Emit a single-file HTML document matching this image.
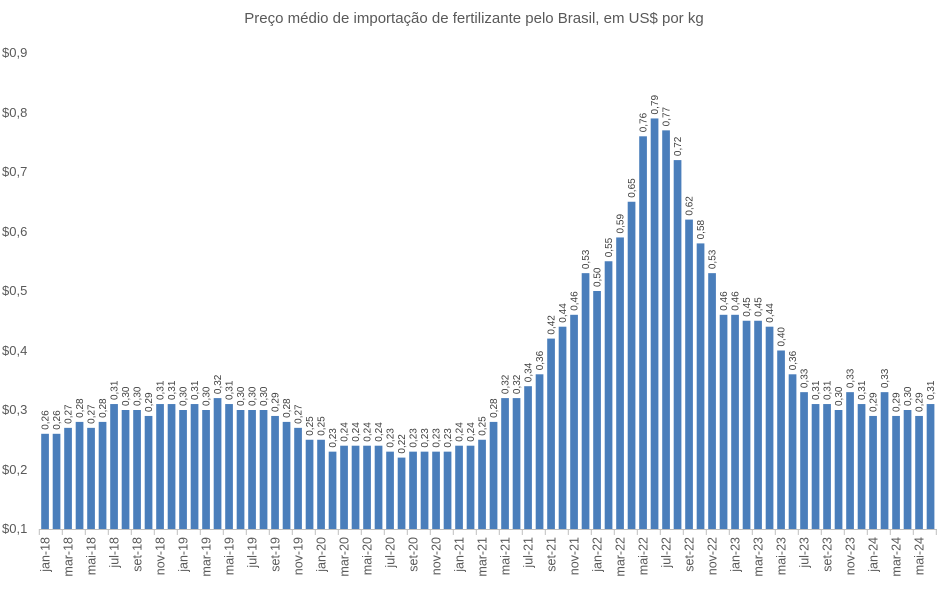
<!DOCTYPE html>
<html><head><meta charset="utf-8"><style>
body{margin:0;background:#fff}
svg{display:block;font-family:"Liberation Sans",sans-serif}
</style></head><body>
<svg width="949" height="591" viewBox="0 0 949 591" xmlns="http://www.w3.org/2000/svg">
<text x="474" y="23" text-anchor="middle" font-size="15" fill="#595959">Preço médio de importação de fertilizante pelo Brasil, em US$ por kg</text>
<g font-size="13" fill="#595959">
<text x="2" y="57">$0,9</text><text x="2" y="117">$0,8</text><text x="2" y="176">$0,7</text><text x="2" y="236">$0,6</text><text x="2" y="295">$0,5</text><text x="2" y="355">$0,4</text><text x="2" y="414">$0,3</text><text x="2" y="474">$0,2</text><text x="2" y="533">$0,1</text>
</g>
<g fill="#4a7ebb">
<rect x="41.2" y="433.8" width="7.7" height="95.2"/><rect x="52.7" y="433.8" width="7.7" height="95.2"/><rect x="64.2" y="427.85" width="7.7" height="101.15"/><rect x="75.7" y="421.9" width="7.7" height="107.1"/><rect x="87.2" y="427.85" width="7.7" height="101.15"/><rect x="98.7" y="421.9" width="7.7" height="107.1"/><rect x="110.2" y="404.05" width="7.7" height="124.95"/><rect x="121.7" y="410" width="7.7" height="119"/><rect x="133.2" y="410" width="7.7" height="119"/><rect x="144.7" y="415.95" width="7.7" height="113.05"/><rect x="156.2" y="404.05" width="7.7" height="124.95"/><rect x="167.7" y="404.05" width="7.7" height="124.95"/>
<rect x="179.2" y="410" width="7.7" height="119"/><rect x="190.7" y="404.05" width="7.7" height="124.95"/><rect x="202.2" y="410" width="7.7" height="119"/><rect x="213.7" y="398.1" width="7.7" height="130.9"/><rect x="225.2" y="404.05" width="7.7" height="124.95"/><rect x="236.7" y="410" width="7.7" height="119"/><rect x="248.2" y="410" width="7.7" height="119"/><rect x="259.7" y="410" width="7.7" height="119"/><rect x="271.2" y="415.95" width="7.7" height="113.05"/><rect x="282.7" y="421.9" width="7.7" height="107.1"/><rect x="294.2" y="427.85" width="7.7" height="101.15"/><rect x="305.7" y="439.75" width="7.7" height="89.25"/>
<rect x="317.2" y="439.75" width="7.7" height="89.25"/><rect x="328.7" y="451.65" width="7.7" height="77.35"/><rect x="340.2" y="445.7" width="7.7" height="83.3"/><rect x="351.7" y="445.7" width="7.7" height="83.3"/><rect x="363.2" y="445.7" width="7.7" height="83.3"/><rect x="374.7" y="445.7" width="7.7" height="83.3"/><rect x="386.2" y="451.65" width="7.7" height="77.35"/><rect x="397.7" y="457.6" width="7.7" height="71.4"/><rect x="409.2" y="451.65" width="7.7" height="77.35"/><rect x="420.7" y="451.65" width="7.7" height="77.35"/><rect x="432.2" y="451.65" width="7.7" height="77.35"/><rect x="443.7" y="451.65" width="7.7" height="77.35"/>
<rect x="455.2" y="445.7" width="7.7" height="83.3"/><rect x="466.7" y="445.7" width="7.7" height="83.3"/><rect x="478.2" y="439.75" width="7.7" height="89.25"/><rect x="489.7" y="421.9" width="7.7" height="107.1"/><rect x="501.2" y="398.1" width="7.7" height="130.9"/><rect x="512.7" y="398.1" width="7.7" height="130.9"/><rect x="524.2" y="386.2" width="7.7" height="142.8"/><rect x="535.7" y="374.3" width="7.7" height="154.7"/><rect x="547.2" y="338.6" width="7.7" height="190.4"/><rect x="558.7" y="326.7" width="7.7" height="202.3"/><rect x="570.2" y="314.8" width="7.7" height="214.2"/><rect x="581.7" y="273.15" width="7.7" height="255.85"/>
<rect x="593.2" y="291" width="7.7" height="238"/><rect x="604.7" y="261.25" width="7.7" height="267.75"/><rect x="616.2" y="237.45" width="7.7" height="291.55"/><rect x="627.7" y="201.75" width="7.7" height="327.25"/><rect x="639.2" y="136.3" width="7.7" height="392.7"/><rect x="650.7" y="118.45" width="7.7" height="410.55"/><rect x="662.2" y="130.35" width="7.7" height="398.65"/><rect x="673.7" y="160.1" width="7.7" height="368.9"/><rect x="685.2" y="219.6" width="7.7" height="309.4"/><rect x="696.7" y="243.4" width="7.7" height="285.6"/><rect x="708.2" y="273.15" width="7.7" height="255.85"/><rect x="719.7" y="314.8" width="7.7" height="214.2"/>
<rect x="731.2" y="314.8" width="7.7" height="214.2"/><rect x="742.7" y="320.75" width="7.7" height="208.25"/><rect x="754.2" y="320.75" width="7.7" height="208.25"/><rect x="765.7" y="326.7" width="7.7" height="202.3"/><rect x="777.2" y="350.5" width="7.7" height="178.5"/><rect x="788.7" y="374.3" width="7.7" height="154.7"/><rect x="800.2" y="392.15" width="7.7" height="136.85"/><rect x="811.7" y="404.05" width="7.7" height="124.95"/><rect x="823.2" y="404.05" width="7.7" height="124.95"/><rect x="834.7" y="410" width="7.7" height="119"/><rect x="846.2" y="392.15" width="7.7" height="136.85"/><rect x="857.7" y="404.05" width="7.7" height="124.95"/>
<rect x="869.2" y="415.95" width="7.7" height="113.05"/><rect x="880.7" y="392.15" width="7.7" height="136.85"/><rect x="892.2" y="415.95" width="7.7" height="113.05"/><rect x="903.7" y="410" width="7.7" height="119"/><rect x="915.2" y="415.95" width="7.7" height="113.05"/><rect x="926.7" y="404.05" width="7.7" height="124.95"/>
</g>
<g font-size="10" fill="#404040">
<text transform="translate(48.6,429.8) rotate(-90)">0,26</text><text transform="translate(60.1,429.8) rotate(-90)">0,26</text><text transform="translate(71.6,423.85) rotate(-90)">0,27</text><text transform="translate(83.1,417.9) rotate(-90)">0,28</text><text transform="translate(94.6,423.85) rotate(-90)">0,27</text><text transform="translate(106.1,417.9) rotate(-90)">0,28</text><text transform="translate(117.6,400.05) rotate(-90)">0,31</text><text transform="translate(129.1,406) rotate(-90)">0,30</text><text transform="translate(140.6,406) rotate(-90)">0,30</text><text transform="translate(152.1,411.95) rotate(-90)">0,29</text><text transform="translate(163.6,400.05) rotate(-90)">0,31</text><text transform="translate(175.1,400.05) rotate(-90)">0,31</text>
<text transform="translate(186.6,406) rotate(-90)">0,30</text><text transform="translate(198.1,400.05) rotate(-90)">0,31</text><text transform="translate(209.6,406) rotate(-90)">0,30</text><text transform="translate(221.1,394.1) rotate(-90)">0,32</text><text transform="translate(232.6,400.05) rotate(-90)">0,31</text><text transform="translate(244.1,406) rotate(-90)">0,30</text><text transform="translate(255.6,406) rotate(-90)">0,30</text><text transform="translate(267.1,406) rotate(-90)">0,30</text><text transform="translate(278.6,411.95) rotate(-90)">0,29</text><text transform="translate(290.1,417.9) rotate(-90)">0,28</text><text transform="translate(301.6,423.85) rotate(-90)">0,27</text><text transform="translate(313.1,435.75) rotate(-90)">0,25</text>
<text transform="translate(324.6,435.75) rotate(-90)">0,25</text><text transform="translate(336.1,447.65) rotate(-90)">0,23</text><text transform="translate(347.6,441.7) rotate(-90)">0,24</text><text transform="translate(359.1,441.7) rotate(-90)">0,24</text><text transform="translate(370.6,441.7) rotate(-90)">0,24</text><text transform="translate(382.1,441.7) rotate(-90)">0,24</text><text transform="translate(393.6,447.65) rotate(-90)">0,23</text><text transform="translate(405.1,453.6) rotate(-90)">0,22</text><text transform="translate(416.6,447.65) rotate(-90)">0,23</text><text transform="translate(428.1,447.65) rotate(-90)">0,23</text><text transform="translate(439.6,447.65) rotate(-90)">0,23</text><text transform="translate(451.1,447.65) rotate(-90)">0,23</text>
<text transform="translate(462.6,441.7) rotate(-90)">0,24</text><text transform="translate(474.1,441.7) rotate(-90)">0,24</text><text transform="translate(485.6,435.75) rotate(-90)">0,25</text><text transform="translate(497.1,417.9) rotate(-90)">0,28</text><text transform="translate(508.6,394.1) rotate(-90)">0,32</text><text transform="translate(520.1,394.1) rotate(-90)">0,32</text><text transform="translate(531.6,382.2) rotate(-90)">0,34</text><text transform="translate(543.1,370.3) rotate(-90)">0,36</text><text transform="translate(554.6,334.6) rotate(-90)">0,42</text><text transform="translate(566.1,322.7) rotate(-90)">0,44</text><text transform="translate(577.6,310.8) rotate(-90)">0,46</text><text transform="translate(589.1,269.15) rotate(-90)">0,53</text>
<text transform="translate(600.6,287) rotate(-90)">0,50</text><text transform="translate(612.1,257.25) rotate(-90)">0,55</text><text transform="translate(623.6,233.45) rotate(-90)">0,59</text><text transform="translate(635.1,197.75) rotate(-90)">0,65</text><text transform="translate(646.6,132.3) rotate(-90)">0,76</text><text transform="translate(658.1,114.45) rotate(-90)">0,79</text><text transform="translate(669.6,126.35) rotate(-90)">0,77</text><text transform="translate(681.1,156.1) rotate(-90)">0,72</text><text transform="translate(692.6,215.6) rotate(-90)">0,62</text><text transform="translate(704.1,239.4) rotate(-90)">0,58</text><text transform="translate(715.6,269.15) rotate(-90)">0,53</text><text transform="translate(727.1,310.8) rotate(-90)">0,46</text>
<text transform="translate(738.6,310.8) rotate(-90)">0,46</text><text transform="translate(750.1,316.75) rotate(-90)">0,45</text><text transform="translate(761.6,316.75) rotate(-90)">0,45</text><text transform="translate(773.1,322.7) rotate(-90)">0,44</text><text transform="translate(784.6,346.5) rotate(-90)">0,40</text><text transform="translate(796.1,370.3) rotate(-90)">0,36</text><text transform="translate(807.6,388.15) rotate(-90)">0,33</text><text transform="translate(819.1,400.05) rotate(-90)">0,31</text><text transform="translate(830.6,400.05) rotate(-90)">0,31</text><text transform="translate(842.1,406) rotate(-90)">0,30</text><text transform="translate(853.6,388.15) rotate(-90)">0,33</text><text transform="translate(865.1,400.05) rotate(-90)">0,31</text>
<text transform="translate(876.6,411.95) rotate(-90)">0,29</text><text transform="translate(888.1,388.15) rotate(-90)">0,33</text><text transform="translate(899.6,411.95) rotate(-90)">0,29</text><text transform="translate(911.1,406) rotate(-90)">0,30</text><text transform="translate(922.6,411.95) rotate(-90)">0,29</text><text transform="translate(934.1,400.05) rotate(-90)">0,31</text>
</g>
<line x1="39" y1="529.5" x2="937" y2="529.5" stroke="#bfbfbf" stroke-width="1"/>
<g stroke="#bfbfbf" stroke-width="1">
<line x1="39.3" y1="529" x2="39.3" y2="535"/><line x1="62.3" y1="529" x2="62.3" y2="535"/><line x1="85.3" y1="529" x2="85.3" y2="535"/><line x1="108.3" y1="529" x2="108.3" y2="535"/><line x1="131.3" y1="529" x2="131.3" y2="535"/><line x1="154.3" y1="529" x2="154.3" y2="535"/><line x1="177.3" y1="529" x2="177.3" y2="535"/><line x1="200.3" y1="529" x2="200.3" y2="535"/><line x1="223.3" y1="529" x2="223.3" y2="535"/><line x1="246.3" y1="529" x2="246.3" y2="535"/><line x1="269.3" y1="529" x2="269.3" y2="535"/><line x1="292.3" y1="529" x2="292.3" y2="535"/><line x1="315.3" y1="529" x2="315.3" y2="535"/><line x1="338.3" y1="529" x2="338.3" y2="535"/><line x1="361.3" y1="529" x2="361.3" y2="535"/><line x1="384.3" y1="529" x2="384.3" y2="535"/><line x1="407.3" y1="529" x2="407.3" y2="535"/><line x1="430.3" y1="529" x2="430.3" y2="535"/><line x1="453.3" y1="529" x2="453.3" y2="535"/><line x1="476.3" y1="529" x2="476.3" y2="535"/><line x1="499.3" y1="529" x2="499.3" y2="535"/><line x1="522.3" y1="529" x2="522.3" y2="535"/><line x1="545.3" y1="529" x2="545.3" y2="535"/><line x1="568.3" y1="529" x2="568.3" y2="535"/><line x1="591.3" y1="529" x2="591.3" y2="535"/><line x1="614.3" y1="529" x2="614.3" y2="535"/><line x1="637.3" y1="529" x2="637.3" y2="535"/><line x1="660.3" y1="529" x2="660.3" y2="535"/><line x1="683.3" y1="529" x2="683.3" y2="535"/><line x1="706.3" y1="529" x2="706.3" y2="535"/><line x1="729.3" y1="529" x2="729.3" y2="535"/><line x1="752.3" y1="529" x2="752.3" y2="535"/><line x1="775.3" y1="529" x2="775.3" y2="535"/><line x1="798.3" y1="529" x2="798.3" y2="535"/><line x1="821.3" y1="529" x2="821.3" y2="535"/><line x1="844.3" y1="529" x2="844.3" y2="535"/><line x1="867.3" y1="529" x2="867.3" y2="535"/><line x1="890.3" y1="529" x2="890.3" y2="535"/><line x1="913.3" y1="529" x2="913.3" y2="535"/><line x1="936.3" y1="529" x2="936.3" y2="535"/>
</g>
<g font-size="12.5" fill="#595959" text-anchor="end">
<text transform="translate(49.5,537) rotate(-90)">jan-18</text><text transform="translate(72.5,537) rotate(-90)">mar-18</text><text transform="translate(95.5,537) rotate(-90)">mai-18</text><text transform="translate(118.5,537) rotate(-90)">jul-18</text><text transform="translate(141.5,537) rotate(-90)">set-18</text><text transform="translate(164.5,537) rotate(-90)">nov-18</text>
<text transform="translate(187.5,537) rotate(-90)">jan-19</text><text transform="translate(210.5,537) rotate(-90)">mar-19</text><text transform="translate(233.5,537) rotate(-90)">mai-19</text><text transform="translate(256.5,537) rotate(-90)">jul-19</text><text transform="translate(279.5,537) rotate(-90)">set-19</text><text transform="translate(302.5,537) rotate(-90)">nov-19</text>
<text transform="translate(325.5,537) rotate(-90)">jan-20</text><text transform="translate(348.5,537) rotate(-90)">mar-20</text><text transform="translate(371.5,537) rotate(-90)">mai-20</text><text transform="translate(394.5,537) rotate(-90)">jul-20</text><text transform="translate(417.5,537) rotate(-90)">set-20</text><text transform="translate(440.5,537) rotate(-90)">nov-20</text>
<text transform="translate(463.5,537) rotate(-90)">jan-21</text><text transform="translate(486.5,537) rotate(-90)">mar-21</text><text transform="translate(509.5,537) rotate(-90)">mai-21</text><text transform="translate(532.5,537) rotate(-90)">jul-21</text><text transform="translate(555.5,537) rotate(-90)">set-21</text><text transform="translate(578.5,537) rotate(-90)">nov-21</text>
<text transform="translate(601.5,537) rotate(-90)">jan-22</text><text transform="translate(624.5,537) rotate(-90)">mar-22</text><text transform="translate(647.5,537) rotate(-90)">mai-22</text><text transform="translate(670.5,537) rotate(-90)">jul-22</text><text transform="translate(693.5,537) rotate(-90)">set-22</text><text transform="translate(716.5,537) rotate(-90)">nov-22</text>
<text transform="translate(739.5,537) rotate(-90)">jan-23</text><text transform="translate(762.5,537) rotate(-90)">mar-23</text><text transform="translate(785.5,537) rotate(-90)">mai-23</text><text transform="translate(808.5,537) rotate(-90)">jul-23</text><text transform="translate(831.5,537) rotate(-90)">set-23</text><text transform="translate(854.5,537) rotate(-90)">nov-23</text>
<text transform="translate(877.5,537) rotate(-90)">jan-24</text><text transform="translate(900.5,537) rotate(-90)">mar-24</text><text transform="translate(923.5,537) rotate(-90)">mai-24</text>
</g>
</svg>
</body></html>
